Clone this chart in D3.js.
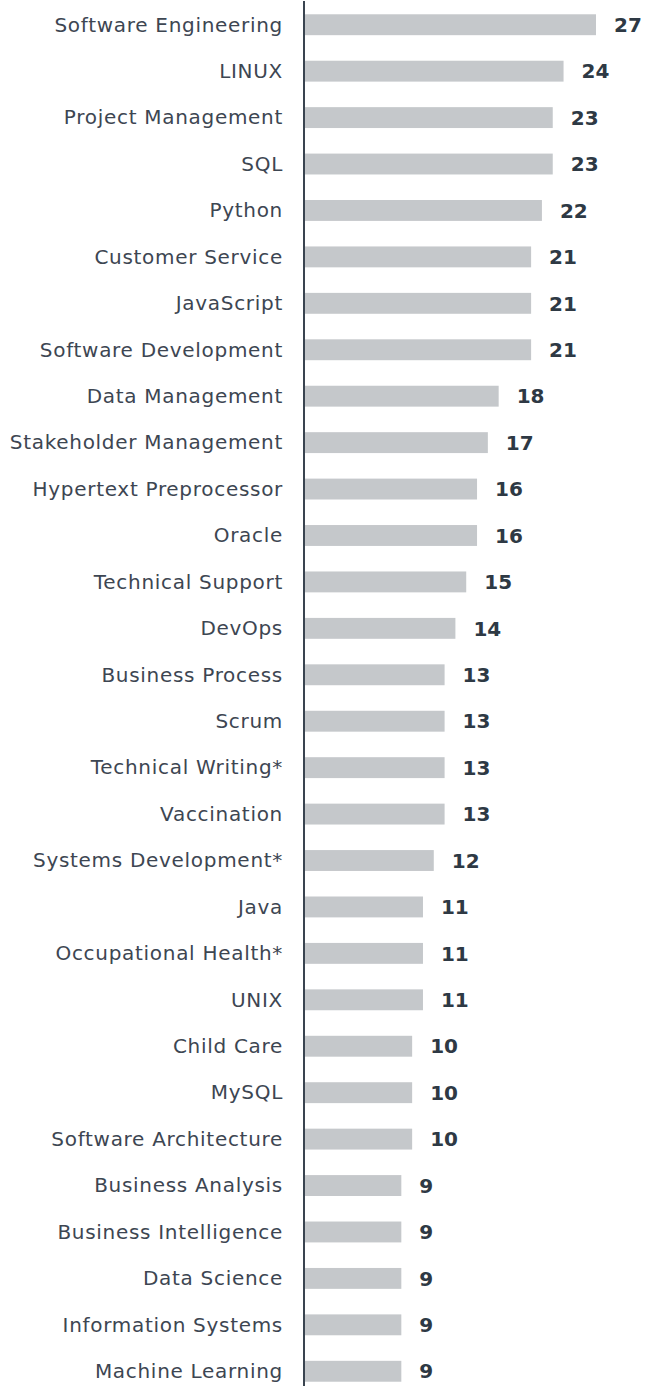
<!DOCTYPE html>
<html>
<head>
<meta charset="utf-8">
<script src="https://cdn.jsdelivr.net/npm/d3@7"></script>
<style>
  body { margin: 0; background: #fff; }
  svg text { font-family: "DejaVu Sans", Verdana, sans-serif; }
</style>
</head>
<body>
<svg id="chart"></svg>
<script>
// skills and how often they show up
let skills = ['Software Engineering', 'LINUX', 'Project Management', 'SQL', 'Python',
  'Customer Service', 'JavaScript', 'Software Development', 'Data Management',
  'Stakeholder Management', 'Hypertext Preprocessor', 'Oracle', 'Technical Support',
  'DevOps', 'Business Process', 'Scrum', 'Technical Writing*', 'Vaccination',
  'Systems Development*', 'Java', 'Occupational Health*', 'UNIX', 'Child Care',
  'MySQL', 'Software Architecture', 'Business Analysis', 'Business Intelligence',
  'Data Science', 'Information Systems', 'Machine Learning']
let counts = [27, 24, 23, 23, 22, 21, 21, 21, 18, 17, 16, 16, 15, 14, 13, 13, 13, 13,
  12, 11, 11, 11, 10, 10, 10, 9, 9, 9, 9, 9]

let w = 645
let h = 1386
let axisX = 304

let svg = d3.select('#chart')
  .attr('width', w)
  .attr('height', h)

let x = d3.scaleLinear()
  .domain([0, 27])
  .range([axisX, axisX + 292])

let y = d3.scaleBand()
  .domain(skills)
  .range([5, 1391])
  .paddingInner(0.55)
  .paddingOuter(0.2)

// bars
svg.selectAll('rect.bar')
  .data(counts)
  .enter()
  .append('rect')
  .attr('class', 'bar')
  .attr('x', x(0) + 1)
  .attr('y', (d, i) => y(skills[i]))
  .attr('width', (d) => x(d) - x(0) - 1)
  .attr('height', y.bandwidth())
  .attr('fill', '#c5c8cb')

// value labels
svg.selectAll('text.val')
  .data(counts)
  .enter()
  .append('text')
  .attr('class', 'val')
  .text((d) => d)
  .attr('x', (d) => x(d) + 18)
  .attr('y', (d, i) => y(skills[i]) + y.bandwidth() / 2)
  .attr('dy', '0.36em')
  .attr('font-size', 20)
  .attr('font-weight', 'bold')
  .attr('fill', '#2e3944')

// category axis
let yAxis = svg.append('g')
  .attr('transform', `translate(${axisX},0)`)
  .call(d3.axisLeft(y).tickSize(0).tickPadding(21))

yAxis.select('.domain').remove()
yAxis.selectAll('text')
  .attr('font-size', 20)
  .attr('fill', '#3d4652')
  .attr('dy', '0.34em')
  .style('letter-spacing', '0.7px')
  .style('font-family', '"DejaVu Sans", Verdana, sans-serif')

svg.append('line')
  .attr('x1', axisX)
  .attr('x2', axisX)
  .attr('y1', 1)
  .attr('y2', h)
  .attr('stroke', '#3a4450')
  .attr('stroke-width', 2)
</script>
</body>
</html>
